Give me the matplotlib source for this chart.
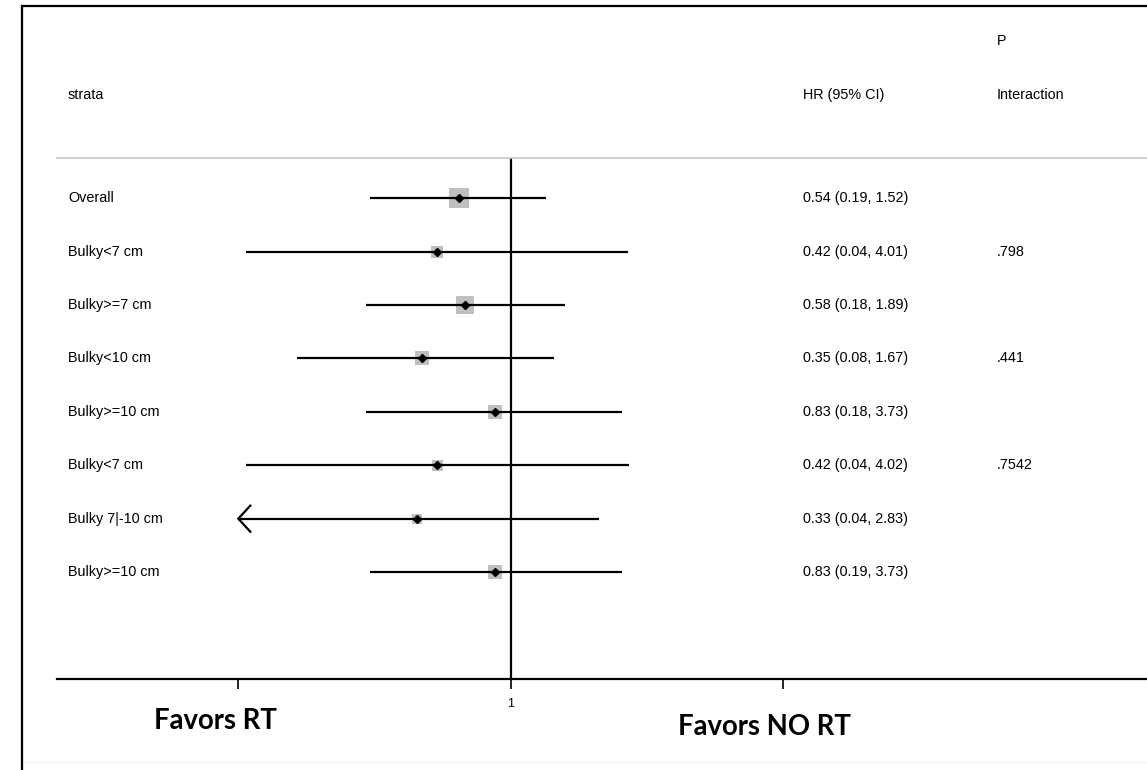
import numpy as np
import matplotlib.pyplot as plt
from matplotlib.lines import Line2D
from matplotlib.ticker import NullLocator
from matplotlib.transforms import blended_transform_factory

plt.rcParams['font.family'] = 'Liberation Sans'

# subgroup estimates (hazard ratio with 95% CI)
strata = ["Overall", "Bulky<7 cm", "Bulky>=7 cm", "Bulky<10 cm", "Bulky>=10 cm",
          "Bulky<7 cm", "Bulky 7|-10 cm", "Bulky>=10 cm"]
hr = [0.54, 0.42, 0.58, 0.35, 0.83, 0.42, 0.33, 0.83]
ci_lo = [0.19, 0.044, 0.18, 0.08, 0.18, 0.044, 0.038, 0.19]
ci_hi = [1.52, 4.01, 1.89, 1.67, 3.73, 4.02, 2.83, 3.73]
p_interaction = ["", ".798", "", ".441", "", ".7542", "", ""]

# box side in pixels (study weight)
box_px = [20, 12, 18, 14, 14, 11, 10, 14]

xticks = [0.04, 1, 25]

W, H = 1147, 770
fig = plt.figure(figsize=(W / 100, H / 100), dpi=100)
ax = fig.add_axes([57 / W, (H - 679) / H, 1 - 57 / W, (679 - 158) / H])
ax.set_xscale('log')
ax.set_xlim(0.0047, 1830)
ax.set_ylim(9.0, -0.75)

y = np.arange(len(strata))
xmin_plot = xticks[0]

ax.axvline(1, color='black', lw=1.6, zorder=1)

ax.scatter(hr, y, marker='s', s=[(b * 0.72) ** 2 for b in box_px],
           color='#bfbfbf', linewidths=0, zorder=2)

for i in range(len(strata)):
    if ci_lo[i] < xmin_plot:
        # CI runs off the scale: clip and draw an arrow head
        ax.hlines(y[i], xmin_plot, ci_hi[i], color='black', lw=1.6, zorder=3)
        back = xmin_plot * np.exp(12 / 84.66)
        ax.plot([back, xmin_plot, back], [y[i] - 0.245, y[i], y[i] + 0.245],
                color='black', lw=1.6, zorder=3, solid_joinstyle='miter')
    else:
        ax.hlines(y[i], ci_lo[i], ci_hi[i], color='black', lw=1.6, zorder=3)

ax.plot(hr, y, 'D', color='black', ms=4.2, zorder=4)

for side in ['left', 'right']:
    ax.spines[side].set_visible(False)
ax.spines['top'].set_color('#c8c8c8')
ax.spines['top'].set_linewidth(1.2)
ax.spines['bottom'].set_linewidth(1.6)

ax.set_xticks(xticks)
ax.set_xticklabels(['', '1', ''])
ax.xaxis.set_minor_locator(NullLocator())
ax.tick_params(axis='x', direction='out', length=7.5, width=1.2, pad=6.5, labelsize=9)
ax.set_yticks([])

# table columns
fs = 10.4
tr = blended_transform_factory(fig.transFigure, ax.transData)
for i in range(len(strata)):
    ax.text(68 / W, y[i], strata[i], transform=tr, va='center', fontsize=fs)
    ax.text(803 / W, y[i], "%.2f (%.2f, %.2f)" % (hr[i], ci_lo[i], ci_hi[i]),
            transform=tr, va='center', fontsize=fs)
    ax.text(997 / W, y[i], p_interaction[i], transform=tr, va='center', fontsize=fs)

fig.text(68 / W, 1 - 95 / H, 'strata', va='center', fontsize=fs)
fig.text(803 / W, 1 - 95 / H, 'HR (95% CI)', va='center', fontsize=fs)
fig.text(997 / W, 1 - 41 / H, 'P', va='center', fontsize=fs)
fig.text(997 / W, 1 - 95 / H, 'Interaction', va='center', fontsize=fs)

fig.text(215 / W, 1 - 721 / H, 'Favors RT', family='Lato', weight='bold',
         fontsize=19.8, ha='center', va='center')
fig.text(764 / W, 1 - 727 / H, 'Favors NO RT', family='Lato', weight='bold',
         fontsize=19.8, ha='center', va='center')

# outer frame
fig.add_artist(Line2D([22 / W, 1], [1 - 6 / H, 1 - 6 / H], color='black', lw=1.6,
                      transform=fig.transFigure))
fig.add_artist(Line2D([22 / W, 22 / W], [0, 1 - 6 / H], color='black', lw=1.6,
                      transform=fig.transFigure))
fig.add_artist(Line2D([25 / W, 1], [1 - 762 / H, 1 - 762 / H], color='#f2f2f2', lw=1,
                      transform=fig.transFigure))

fig.savefig('out.png', dpi=100)
